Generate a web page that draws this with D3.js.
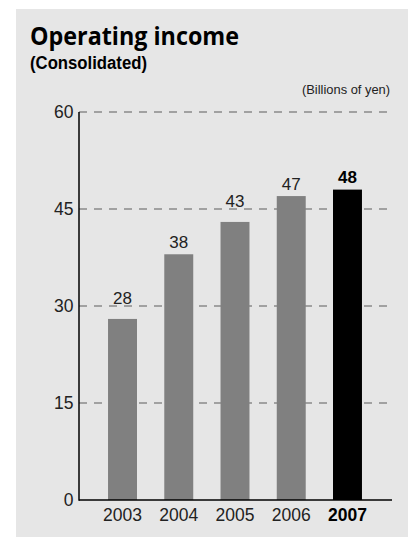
<!DOCTYPE html>
<html>
<head>
<meta charset="utf-8">
<script src="https://cdn.jsdelivr.net/npm/d3@7/dist/d3.min.js"></script>
<style>
html,body{margin:0;padding:0;background:#fff;}
svg{display:block;}
</style>
</head>
<body>
<script>
const years = ["2003","2004","2005","2006","2007"];
const values = [28, 38, 43, 47, 48];
const yTicks = [0, 15, 30, 45, 60];
const highlightYear = "2007";

const W = 408, H = 537;
const svg = d3.select("body").append("svg").attr("width", W).attr("height", H);

svg.append("rect").attr("x", 16).attr("y", 9).attr("width", W - 16).attr("height", H - 9).attr("fill", "#e6e6e6");

const x = d3.scaleBand().domain(years).range([94.4, 375.6]).paddingInner(0.485).paddingOuter(0.2425);
const y = d3.scaleLinear().domain([0, 60]).range([500, 112]);

const axisLeft = 79, axisRight = 392;
const FONT = "Liberation Sans, Arial, sans-serif";

// grid lines
svg.append("g").selectAll("line").data(yTicks.filter(d => d > 0)).join("line")
  .attr("x1", axisLeft).attr("x2", 389)
  .attr("y1", d => y(d)).attr("y2", d => y(d))
  .attr("stroke", "#8a8a8a").attr("stroke-width", 1.5)
  .attr("stroke-dasharray", "8,7");

// bars
svg.append("g").selectAll("rect").data(years).join("rect")
  .attr("x", d => x(d)).attr("width", x.bandwidth())
  .attr("y", (d, i) => y(values[i])).attr("height", (d, i) => y(0) - y(values[i]))
  .attr("fill", d => d === highlightYear ? "#000" : "#808080");

// value labels: sit above bar, lifted above a gridline if they would collide with it
function labelY(v) {
  let b = y(v) - 6.5;
  const hit = yTicks.filter(t => t > 0).find(t => y(t) > b - 13 && y(t) < b + 2);
  if (hit !== undefined) b = y(hit) - 2;
  return b;
}
svg.append("g").selectAll("text").data(years).join("text")
  .attr("x", d => x(d) + x.bandwidth() / 2)
  .attr("y", (d, i) => labelY(values[i]))
  .attr("text-anchor", "middle")
  .attr("font-family", FONT)
  .attr("font-size", 17)
  .attr("font-weight", d => d === highlightYear ? "bold" : "normal")
  .attr("fill", d => d === highlightYear ? "#000" : "#222")
  .text((d, i) => values[i]);

// axes lines
svg.append("line").attr("x1", axisLeft).attr("x2", axisLeft).attr("y1", y(60)).attr("y2", y(0) + 0.75)
  .attr("stroke", "#000").attr("stroke-width", 1.5);
svg.append("line").attr("x1", axisLeft).attr("x2", axisRight).attr("y1", y(0)).attr("y2", y(0))
  .attr("stroke", "#000").attr("stroke-width", 1.5);

// y tick labels
svg.append("g").selectAll("text").data(yTicks).join("text")
  .attr("x", 73.5).attr("y", d => y(d)).attr("dy", "0.36em")
  .attr("text-anchor", "end")
  .attr("font-family", FONT)
  .attr("font-size", 17.5).attr("fill", "#222")
  .text(d => d);

// x tick labels
svg.append("g").selectAll("text").data(years).join("text")
  .attr("x", d => x(d) + x.bandwidth() / 2).attr("y", 521)
  .attr("text-anchor", "middle")
  .attr("font-family", FONT)
  .attr("font-size", 17.5)
  .attr("font-weight", d => d === highlightYear ? "bold" : "normal")
  .attr("fill", d => d === highlightYear ? "#000" : "#222")
  .text(d => d);

// titles
svg.append("text").attr("x", 30).attr("y", 44.5)
  .attr("font-family", "Open Sans, DejaVu Sans, sans-serif").attr("font-weight", 700)
  .attr("font-size", 25).attr("fill", "#000")
  .attr("textLength", 209).attr("lengthAdjust", "spacingAndGlyphs")
  .text("Operating income");
svg.append("text").attr("x", 30).attr("y", 68.5)
  .attr("font-family", FONT).attr("font-weight", 700)
  .attr("font-size", 18).attr("fill", "#000")
  .attr("textLength", 117).attr("lengthAdjust", "spacingAndGlyphs")
  .text("(Consolidated)");
svg.append("text").attr("x", 390).attr("y", 93.5)
  .attr("text-anchor", "end")
  .attr("font-family", FONT)
  .attr("font-size", 13).attr("fill", "#222")
  .attr("textLength", 88).attr("lengthAdjust", "spacingAndGlyphs")
  .text("(Billions of yen)");
</script>
</body>
</html>
